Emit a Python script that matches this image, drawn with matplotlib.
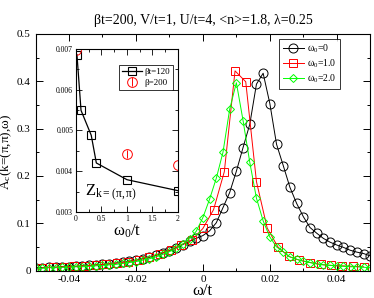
import matplotlib
matplotlib.use("Agg")
import matplotlib.pyplot as plt
from matplotlib.ticker import MultipleLocator, FixedLocator

plt.rcParams['font.family'] = ['Liberation Serif', 'DejaVu Serif']
plt.rcParams['mathtext.fontset'] = 'custom'
plt.rcParams['mathtext.rm'] = 'Liberation Serif'
plt.rcParams['mathtext.it'] = 'Liberation Serif'
plt.rcParams['mathtext.default'] = 'rm'

# main panel data
w_black = [-0.050, -0.048, -0.046, -0.044, -0.042, -0.040, -0.038, -0.036, -0.034, -0.032,
           -0.030, -0.028, -0.026, -0.024, -0.022, -0.020, -0.018, -0.016, -0.014, -0.012,
           -0.010, -0.008, -0.006, -0.004, -0.002, 0.000, 0.002, 0.004, 0.006, 0.008,
           0.010, 0.012, 0.014, 0.016, 0.018, 0.020, 0.022, 0.024, 0.026, 0.028,
           0.030, 0.032, 0.034, 0.036, 0.038, 0.040, 0.042, 0.044, 0.046, 0.048, 0.050]
A_black = [0.006, 0.006, 0.007, 0.007, 0.008, 0.008, 0.009, 0.010, 0.011, 0.012,
           0.013, 0.014, 0.016, 0.018, 0.020, 0.022, 0.025, 0.028, 0.032, 0.037,
           0.042, 0.048, 0.055, 0.062, 0.068, 0.074, 0.084, 0.101, 0.133, 0.165,
           0.210, 0.260, 0.309, 0.394, 0.417, 0.353, 0.267, 0.222, 0.176, 0.142,
           0.114, 0.091, 0.079, 0.068, 0.060, 0.054, 0.049, 0.043, 0.039, 0.036, 0.031]

w_red = [-0.048, -0.0448, -0.0416, -0.0384, -0.0352, -0.032, -0.0288, -0.0256, -0.0224, -0.0192,
         -0.016, -0.0128, -0.0096, -0.0064, -0.0032, 0.0, 0.0032, 0.0064, 0.0096, 0.0128,
         0.016, 0.0192, 0.0224, 0.0256, 0.0288, 0.032, 0.0352, 0.0384, 0.0416, 0.0448, 0.048]
A_red = [0.006, 0.007, 0.008, 0.009, 0.010, 0.012, 0.014, 0.016, 0.019, 0.023,
         0.029, 0.036, 0.044, 0.055, 0.065, 0.089, 0.129, 0.209, 0.422, 0.399,
         0.188, 0.090, 0.050, 0.030, 0.022, 0.017, 0.013, 0.011, 0.010, 0.009, 0.008]

w_green = w_black
A_green = [0.005, 0.005, 0.006, 0.006, 0.007, 0.007, 0.008, 0.008, 0.009, 0.010,
           0.011, 0.012, 0.013, 0.015, 0.017, 0.019, 0.022, 0.025, 0.029, 0.034,
           0.040, 0.047, 0.056, 0.067, 0.083, 0.112, 0.151, 0.195, 0.250, 0.341,
           0.397, 0.317, 0.229, 0.153, 0.105, 0.071, 0.050, 0.040, 0.029, 0.024,
           0.020, 0.017, 0.014, 0.012, 0.011, 0.010, 0.009, 0.008, 0.008, 0.007, 0.006]

# inset data
w0_120 = [0.02, 0.1, 0.3, 0.4, 1.0, 2.0]
Z_120 = [0.00686, 0.00549, 0.00488, 0.00420, 0.00379, 0.00352]
w0_200 = [0.0, 1.0, 2.0]
Z_200 = [0.00698, 0.00441, 0.00415]
Z_200_err = [0.00003, 0.0001, 0.00003]

fig = plt.figure(figsize=(3.74, 2.98), dpi=100)
ax = fig.add_axes([0.095, 0.092, 0.895, 0.794])

ax.plot(w_black, A_black, color='black', lw=0.7, marker='o', ms=6.5, mfc='none', mew=0.7,
        label='ω$_0$=0')
ax.plot(w_red, A_red, color='red', lw=0.7, marker='s', ms=5.5, mfc='none', mew=0.7,
        label='ω$_0$=1.0')
ax.plot(w_green, A_green, color='#00ff00', lw=0.7, marker='D', ms=4.5, mfc='none', mew=0.7,
        label='ω$_0$=2.0')

ax.set_xlim(-0.05, 0.05)
ax.set_ylim(0, 0.5)
ax.xaxis.set_major_locator(FixedLocator([-0.04, -0.02, 0, 0.02, 0.04]))
ax.xaxis.set_minor_locator(MultipleLocator(0.01))
ax.yaxis.set_minor_locator(MultipleLocator(0.05))
ax.set_xticklabels(['-0.04', '-0.02', '0', '0.02', '0.04'])
ax.set_yticks([0, 0.1, 0.2, 0.3, 0.4, 0.5])
ax.set_yticklabels(['0', '0.1', '0.2', '0.3', '0.4', '0.5'])
ax.tick_params(which='both', direction='in', top=True, right=True, labelsize=8, width=0.7)
ax.tick_params(which='major', length=5)
ax.tick_params(which='minor', length=2.5)
for s in ax.spines.values():
    s.set_linewidth(0.8)
ax.set_xlabel('ω/t', fontsize=12, labelpad=-1)
ax.set_ylabel('A$_c$(k=(π,π),ω)', fontsize=9.5, labelpad=2)
ax.set_title('βt=200, V/t=1, U/t=4, <n>=1.8, λ=0.25', fontsize=10, pad=7)

leg = ax.legend(loc='upper right', bbox_to_anchor=(0.909, 0.868), bbox_transform=fig.transFigure,
                fontsize=7, frameon=True, fancybox=False, edgecolor='black', handlelength=2.2,
                handletextpad=0.3, borderpad=0.35, labelspacing=0.25, borderaxespad=0)
leg.get_frame().set_linewidth(0.7)

# inset
axi = fig.add_axes([0.203, 0.289, 0.273, 0.547])
axi.plot(w0_120, Z_120, color='black', lw=0.9, marker='s', ms=5.5, mfc='none', mew=0.8,
         label='βt=120')
axi.errorbar(w0_200, Z_200, yerr=Z_200_err, color='red', ls='none', marker='o', ms=7,
             mfc='none', mew=0.7, elinewidth=0.7, capsize=0, label='β=200')
axi.set_xlim(0, 2)
axi.set_ylim(0.003, 0.007)
axi.xaxis.set_minor_locator(MultipleLocator(0.25))
axi.yaxis.set_minor_locator(MultipleLocator(0.0005))
axi.set_xticks([0, 0.5, 1, 1.5, 2])
axi.set_xticklabels(['0', '0.5', '1', '1.5', '2'])
axi.set_yticks([0.003, 0.004, 0.005, 0.006, 0.007])
axi.set_yticklabels(['0.003', '0.004', '0.005', '0.006', '0.007'])
axi.tick_params(which='both', direction='in', top=True, right=True, labelsize=5.5, width=0.6, pad=2)
axi.tick_params(which='major', length=4)
axi.tick_params(which='minor', length=2)
for s in axi.spines.values():
    s.set_linewidth(0.8)
axi.set_xlabel('ω$_0$/t', fontsize=12, labelpad=0)
axi.text(0.17, 0.0034, 'Z$_{k=(π,π)}$', fontsize=12)
li = axi.legend(loc='upper right', bbox_to_anchor=(0.4626, 0.782), bbox_transform=fig.transFigure,
                fontsize=6.5, frameon=True, fancybox=False, edgecolor='black', handlelength=2.2,
                handletextpad=0.3, borderpad=0.3, labelspacing=0.3, borderaxespad=0)
li.get_frame().set_linewidth(0.7)

fig.savefig('out.png', dpi=100)
